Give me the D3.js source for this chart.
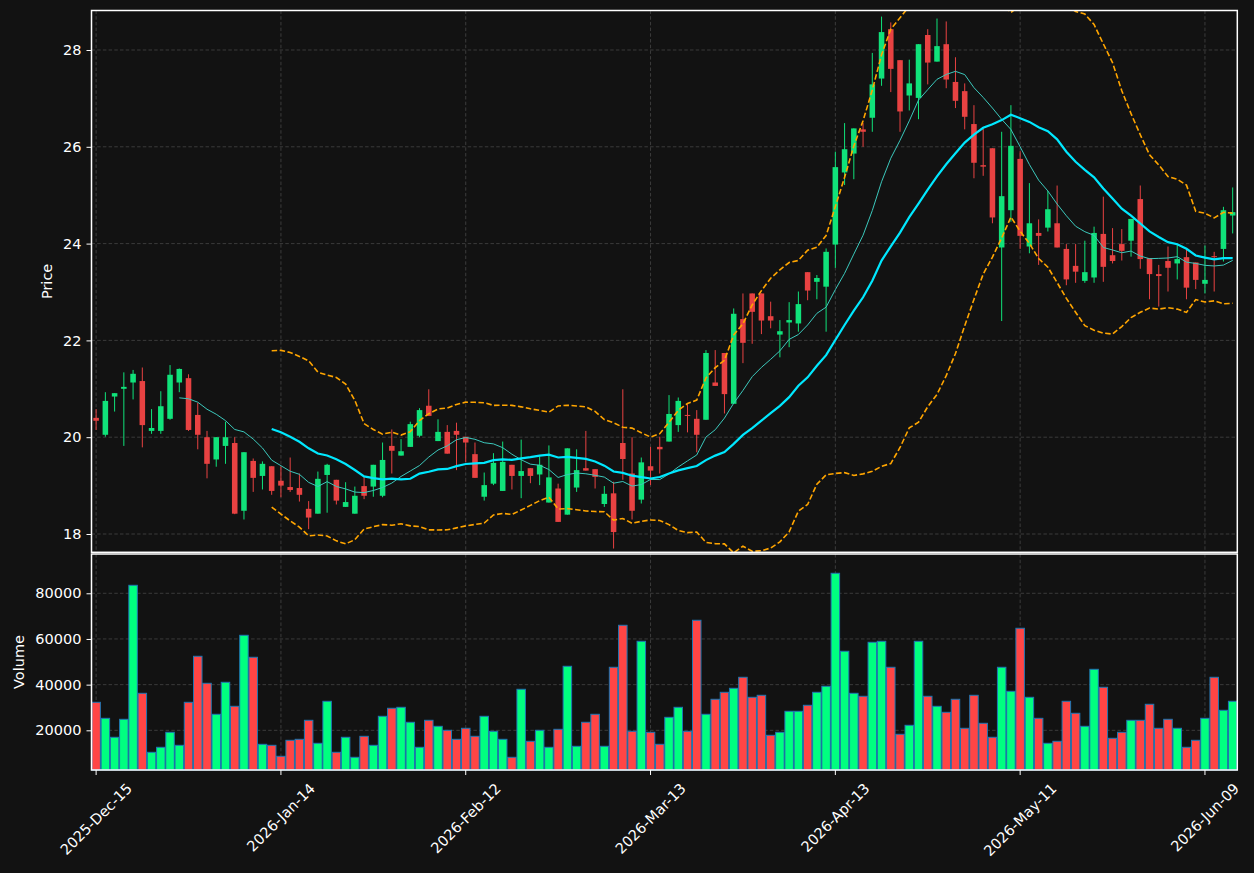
<!DOCTYPE html>
<html>
<head>
<meta charset="utf-8">
<script src="https://cdn.jsdelivr.net/npm/d3@7"></script>
<style>
  body { margin: 0; background: #121212; }
  svg { display: block; font-family: "DejaVu Sans", sans-serif; }
</style>
</head>
<body>
<div id="chart"></div>
<script>
// daily OHLC, one entry per trading day
var opens = [20.40,20.05,20.84,21.00,21.13,21.16,20.13,20.13,20.38,21.13,
  21.22,20.46,20.00,19.54,19.82,19.88,18.48,19.51,19.20,19.40,
  19.10,18.97,18.95,18.52,18.42,19.22,19.12,18.56,18.42,18.99,
  18.98,18.79,19.82,19.62,19.80,20.03,20.65,19.92,20.11,20.13,
  20.01,19.65,18.77,19.04,18.89,19.43,19.20,19.36,19.23,18.65,
  18.94,18.40,18.96,19.36,19.34,18.62,18.84,19.88,19.25,18.71,
  19.40,19.80,19.91,20.25,20.46,20.38,20.36,21.13,21.74,20.69,
  22.44,22.97,22.97,22.50,22.12,22.37,22.35,23.41,23.21,23.11,
  23.98,25.47,25.86,26.36,26.60,27.41,28.43,27.79,27.06,27.01,
  28.31,27.76,28.12,27.34,27.15,26.47,25.62,25.97,23.92,24.69,
  25.75,23.94,24.22,24.33,24.42,23.89,23.54,23.23,23.30,24.20,
  23.76,23.99,24.06,24.92,23.70,23.37,23.64,23.59,23.72,23.61,
  23.17,23.74,23.89,24.58];
var highs = [20.58,20.93,20.91,21.34,21.39,21.44,20.58,20.95,21.49,21.42,
  21.30,20.71,20.13,20.00,20.32,20.00,19.69,19.56,19.50,19.40,
  19.40,19.58,19.25,18.68,19.29,19.45,19.12,19.07,18.98,19.20,
  19.43,19.89,20.16,19.96,20.32,20.60,20.99,20.37,20.25,20.30,
  20.01,19.89,19.27,19.67,19.91,19.43,19.95,19.36,19.60,19.83,
  19.04,19.77,19.75,20.13,19.34,18.99,19.08,20.99,20.00,19.58,
  19.80,20.01,20.87,20.82,20.68,20.56,21.80,21.80,21.74,22.66,
  22.97,22.97,22.97,22.80,22.42,22.79,23.01,23.41,23.35,23.90,
  25.90,26.49,26.38,26.49,27.94,28.69,28.57,27.79,27.80,28.12,
  28.43,28.65,28.59,27.85,27.31,26.86,26.37,25.97,26.31,26.86,
  25.91,25.25,24.50,25.09,25.20,23.99,23.99,24.06,24.35,24.97,
  24.32,24.30,24.51,25.20,23.70,23.56,23.94,23.99,23.90,23.61,
  23.96,23.83,24.76,25.16];
var lows = [20.15,20.01,20.53,19.82,20.78,19.79,20.07,20.07,20.36,20.93,
  20.13,19.75,19.15,19.39,19.45,18.41,18.30,18.87,18.92,18.81,
  18.76,18.87,18.67,18.10,18.42,18.44,18.61,18.56,18.42,18.72,
  18.77,18.76,19.25,19.62,19.80,20.00,20.44,19.92,19.66,19.32,
  19.49,19.16,18.69,19.01,18.89,18.92,18.74,19.05,19.01,18.65,
  18.25,18.40,18.87,19.31,18.94,18.56,17.70,19.12,18.30,18.63,
  19.01,19.25,19.91,20.11,20.10,19.69,20.36,21.06,20.49,20.69,
  21.53,21.93,22.13,22.25,21.65,21.86,22.18,22.83,22.85,22.18,
  23.50,25.21,25.33,26.00,26.31,27.26,27.13,26.31,26.75,26.57,
  27.29,27.76,27.21,26.80,26.36,25.35,25.40,24.42,22.40,24.45,
  23.89,23.80,23.56,24.25,23.92,23.14,23.19,23.19,23.19,23.21,
  23.59,23.65,23.73,23.48,22.85,22.70,23.01,23.26,22.85,23.06,
  22.97,23.01,23.63,24.21];
var closes = [20.34,20.75,20.91,21.04,21.31,20.25,20.19,20.64,21.29,21.41,
  20.15,20.05,19.45,20.00,20.00,18.42,19.69,19.16,19.45,18.89,
  19.00,18.91,18.81,18.34,19.14,19.43,18.69,18.66,18.79,18.79,
  19.43,19.53,19.72,19.71,20.27,20.56,20.44,20.11,19.66,20.05,
  19.89,19.16,19.01,19.47,19.49,19.20,19.30,19.20,19.43,19.17,
  18.25,19.77,19.32,19.31,19.18,18.83,18.04,19.55,18.48,19.48,
  19.31,19.75,20.48,20.75,20.44,20.05,21.74,21.06,20.89,22.55,
  21.95,22.59,22.41,22.41,22.19,22.42,22.75,23.03,23.29,23.83,
  25.58,25.95,26.38,26.31,27.29,28.37,27.61,26.73,27.31,28.12,
  27.74,28.08,27.39,26.95,26.62,25.67,25.59,24.54,24.98,26.02,
  24.16,24.42,24.16,24.71,23.92,23.26,23.42,23.41,24.22,23.52,
  23.64,23.85,24.51,23.68,23.37,23.33,23.50,23.68,23.09,23.25,
  23.25,23.72,24.69,24.65];
var volumes = [32270,25260,16950,24830,83500,36210,10380,12570,19140,13440,
  32270,52420,40590,27020,41030,30520,61610,51980,13880,13440,
  8630,15630,16070,24390,14320,32710,10380,16950,8190,17380,
  13440,26140,29650,30080,23520,12570,24390,21760,20010,16070,
  20890,17380,26140,19570,16070,8190,37970,15200,20010,12570,
  20450,48040,13010,23520,27020,13010,47600,65990,19570,58980,
  19140,13880,25700,30080,19570,68180,27020,33590,36650,38400,
  43220,34460,35340,17820,19140,28330,28330,30960,36650,39280,
  88760,54610,36210,34900,58550,58980,47600,18260,22200,58980,
  34900,30520,27890,33590,20890,35340,23080,16950,47600,37090,
  64680,34460,25260,14320,15200,32710,27460,21760,46720,38840,
  16510,19140,24390,24390,31400,20890,24830,20890,12570,15630,
  25260,43220,28770,32710];

// date labels shown on the x axis (every 20th trading day)
var tickIdx = [0, 20, 40, 60, 80, 100, 120];
var tickLabels = ["2025-Dec-15", "2026-Jan-14", "2026-Feb-12", "2026-Mar-13",
  "2026-Apr-13", "2026-May-11", "2026-Jun-09"];
var priceTicks = [18, 20, 22, 24, 26, 28];
var volumeTicks = [20000, 40000, 60000, 80000];

var svgWidth = 1254;
var svgHeight = 873;
var plotLeft = 91.5, plotRight = 1237.3;
var priceTop = 10.5, priceBottom = 552.3;
var volTop = 554, volBottom = 770;
var fontSize = 14.5;

var upCandle = "#10e27a", downCandle = "#e84242";
var upVol = "#00ff80", downVol = "#ff4545";

var svg = d3.select("#chart")
  .append("svg")
  .attr("width", svgWidth)
  .attr("height", svgHeight);

svg.append("rect")
  .attr("width", svgWidth)
  .attr("height", svgHeight)
  .attr("fill", "#121212");

var xScale = d3.scaleLinear()
  .domain([-0.5, closes.length - 0.5])
  .range([plotLeft, plotRight]);
var step = xScale(1) - xScale(0);

var yPrice = d3.scaleLinear()
  .domain([17.622, 28.816])
  .range([priceBottom, priceTop]);

var yVol = d3.scaleLinear()
  .domain([2630, 97200])
  .range([volBottom, volTop]);

// clip paths so the bands don't leak outside the panels
var defs = svg.append("defs");
defs.append("clipPath").attr("id", "clipPrice")
  .append("rect")
  .attr("x", plotLeft).attr("y", priceTop)
  .attr("width", plotRight - plotLeft).attr("height", priceBottom - priceTop);

// grids
function drawGrid(yScale, ticks, top, bottom) {
  var g = svg.append("g").attr("class", "grid");
  g.selectAll("line.h")
    .data(ticks)
    .enter()
    .append("line")
    .attr("x1", plotLeft).attr("x2", plotRight)
    .attr("y1", d => yScale(d)).attr("y2", d => yScale(d));
  g.selectAll("line.v")
    .data(tickIdx)
    .enter()
    .append("line")
    .attr("x1", d => xScale(d)).attr("x2", d => xScale(d))
    .attr("y1", top).attr("y2", bottom);
  g.selectAll("line")
    .attr("stroke", "#3b3b3b")
    .attr("stroke-width", 1)
    .attr("stroke-dasharray", "3.5,2.2");
}
drawGrid(yPrice, priceTicks, priceTop, priceBottom);
drawGrid(yVol, volumeTicks, volTop, volBottom);

// candles
var data = closes.map((c, i) => ({i: i, o: opens[i], h: highs[i], l: lows[i], c: c, v: volumes[i]}));

var candleG = svg.append("g").attr("clip-path", "url(#clipPrice)");
candleG.selectAll("line.wick")
  .data(data)
  .enter()
  .append("line")
  .attr("x1", d => xScale(d.i)).attr("x2", d => xScale(d.i))
  .attr("y1", d => yPrice(d.h)).attr("y2", d => yPrice(d.l))
  .attr("stroke", d => d.c >= d.o ? upCandle : downCandle)
  .attr("stroke-width", 1);

var bodyW = step * 0.6;
candleG.selectAll("rect.body")
  .data(data)
  .enter()
  .append("rect")
  .attr("x", d => xScale(d.i) - bodyW / 2)
  .attr("width", bodyW)
  .attr("y", d => yPrice(Math.max(d.o, d.c)))
  .attr("height", d => Math.max(1, Math.abs(yPrice(d.o) - yPrice(d.c))))
  .attr("fill", d => d.c >= d.o ? upCandle : downCandle);

// moving averages and bollinger bands from the closes
function rolling(n) {
  var out = [];
  for (var i = n - 1; i < closes.length; i++) {
    var w = closes.slice(i - n + 1, i + 1);
    var m = d3.mean(w);
    var sd = Math.sqrt(d3.mean(w, x => (x - m) * (x - m)));
    out.push({i: i, m: m, up: m + 2 * sd, lo: m - 2 * sd});
  }
  return out;
}
var ma10 = rolling(10);
var bb20 = rolling(20);

function lineFor(key) {
  return d3.line().x(d => xScale(d.i)).y(d => yPrice(d[key]));
}

var lineG = svg.append("g").attr("clip-path", "url(#clipPrice)").attr("fill", "none");
lineG.append("path").datum(bb20).attr("d", lineFor("up"))
  .attr("stroke", "#ffa500").attr("stroke-width", 1.6).attr("stroke-dasharray", "5.5,2.5");
lineG.append("path").datum(bb20).attr("d", lineFor("lo"))
  .attr("stroke", "#ffa500").attr("stroke-width", 1.6).attr("stroke-dasharray", "5.5,2.5");
lineG.append("path").datum(ma10).attr("d", lineFor("m"))
  .attr("stroke", "#3cc8bc").attr("stroke-width", 1);
lineG.append("path").datum(bb20).attr("d", lineFor("m"))
  .attr("stroke", "#00e8ff").attr("stroke-width", 2.2);

// volume bars
var barW = step * 0.92;
svg.append("g")
  .selectAll("rect")
  .data(data)
  .enter()
  .append("rect")
  .attr("x", d => xScale(d.i) - barW / 2)
  .attr("width", barW)
  .attr("y", d => yVol(d.v))
  .attr("height", d => volBottom - yVol(d.v))
  .attr("fill", d => d.c >= d.o ? upVol : downVol)
  .attr("stroke", "#1f77b4")
  .attr("stroke-width", 1);

// frames
[[priceTop, priceBottom], [volTop, volBottom]].forEach(function(p) {
  svg.append("rect")
    .attr("x", plotLeft).attr("y", p[0])
    .attr("width", plotRight - plotLeft).attr("height", p[1] - p[0])
    .attr("fill", "none")
    .attr("stroke", "#ffffff")
    .attr("stroke-width", 1.5);
});

// y axes
function yAxis(scale, ticks) {
  var g = svg.append("g")
    .attr("transform", `translate(${plotLeft},0)`)
    .call(d3.axisLeft(scale).tickValues(ticks).tickSize(5).tickPadding(5).tickFormat(d3.format("d")));
  g.select(".domain").remove();
  g.selectAll("line").attr("stroke", "#ffffff");
  g.selectAll("text")
    .attr("fill", "#ffffff")
    .attr("font-size", fontSize)
    .attr("font-family", "DejaVu Sans");
}
yAxis(yPrice, priceTicks);
yAxis(yVol, volumeTicks);

// x axis ticks under the volume panel
svg.append("g")
  .selectAll("line")
  .data(tickIdx)
  .enter()
  .append("line")
  .attr("x1", d => xScale(d)).attr("x2", d => xScale(d))
  .attr("y1", volBottom).attr("y2", volBottom + 5)
  .attr("stroke", "#ffffff");

var dateText = svg.append("g")
  .attr("fill", "#ffffff")
  .attr("font-size", fontSize)
  .selectAll("text")
  .data(tickIdx)
  .enter()
  .append("text")
  .attr("text-anchor", "middle")
  .attr("dy", "0.35em")
  .text((d, i) => tickLabels[i]);

dateText.attr("transform", function(d) {
  var L = this.getComputedTextLength();
  var cy = volBottom + 10 + (L + fontSize * 1.15) * 0.3536;
  return `translate(${xScale(d)},${cy}) rotate(-45)`;
});

// axis titles, each sitting just left of its own tick labels
svg.append("text")
  .attr("transform", `translate(52,${(priceTop + priceBottom) / 2}) rotate(-90)`)
  .attr("text-anchor", "middle")
  .attr("fill", "#ffffff")
  .attr("font-size", fontSize)
  .text("Price");

svg.append("text")
  .attr("transform", `translate(24,${(volTop + volBottom) / 2}) rotate(-90)`)
  .attr("text-anchor", "middle")
  .attr("fill", "#ffffff")
  .attr("font-size", fontSize)
  .text("Volume");
</script>
</body>
</html>
